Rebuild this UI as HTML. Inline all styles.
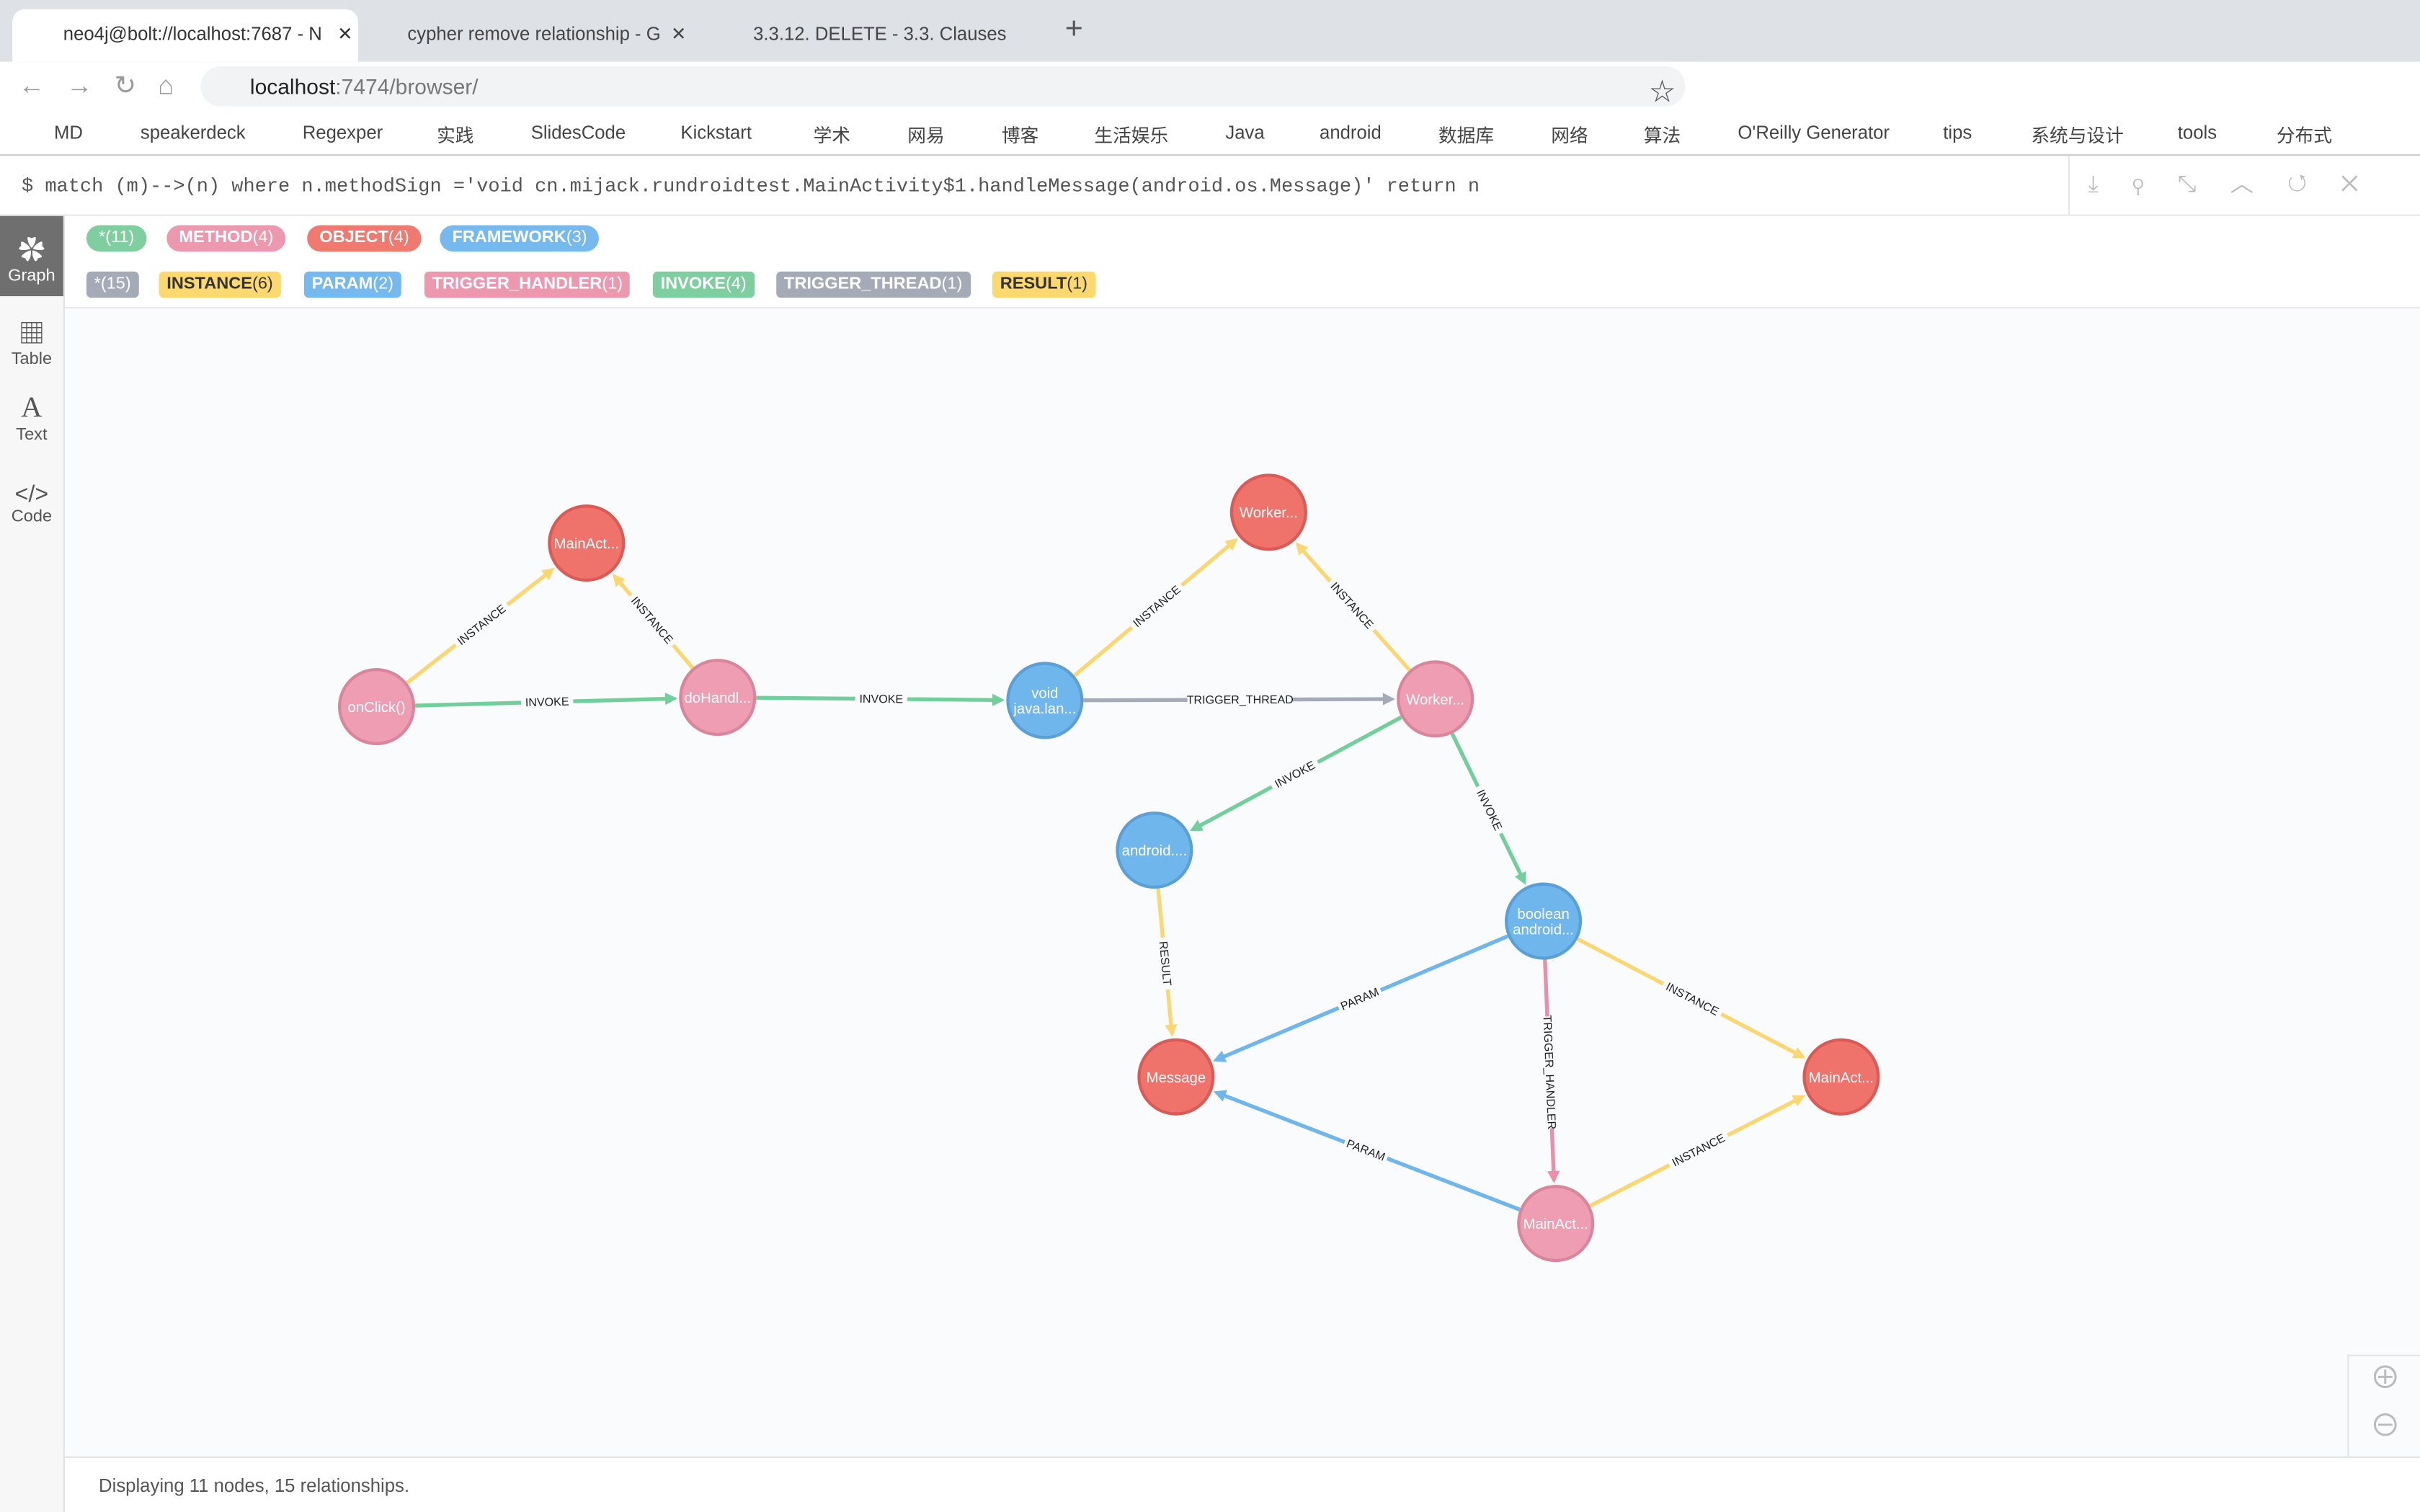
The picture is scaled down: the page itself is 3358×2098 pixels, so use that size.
<!DOCTYPE html>
<html><head><meta charset="utf-8"><style>
html,body{margin:0;padding:0;width:3358px;height:2098px;overflow:hidden;background:#fff}
#w{width:1568px;height:980px;position:relative;transform:scale(2.14158,2.14082);transform-origin:0 0;font-family:"Liberation Sans","Noto Sans CJK SC",sans-serif;font-size:12px;color:#333}
.abs{position:absolute}
.tab{position:absolute;top:6px;height:34px;font-size:12px;color:#333;line-height:32px;padding-left:40px;box-sizing:border-box}
.bm{position:absolute;top:79px;font-size:12px;color:#444}
.pill{position:absolute;height:17px;line-height:17px;font-size:11px;color:#fff;font-weight:bold;padding:0 8px;border-radius:9px}
.pill span{font-weight:normal}
.rel{border-radius:3px;padding:0 5px}
.side{position:absolute;left:0;width:41px;height:52px;text-align:center;font-size:11px;color:#555}
</style></head><body>
<div id="w">
<div class="abs" style="left:0;top:0;width:1568px;height:40px;background:#dee1e6"></div>
<div class="tab" style="left:8px;width:224px;background:#fff;border-radius:8px 8px 0 0;padding-left:33px">neo4j@bolt://localhost:7687 - N &nbsp; ✕</div>
<div class="tab" style="left:232px;width:222px;padding-left:32px;color:#444">cypher remove relationship - G &nbsp;✕</div>
<div class="tab" style="left:456px;width:222px;padding-left:32px;color:#444">3.3.12. DELETE - 3.3. Clauses &nbsp; &nbsp; &nbsp;✕</div>
<div class="abs" style="left:690px;top:8px;font-size:20px;color:#555">+</div>
<div class="abs" style="left:130px;top:43px;width:962px;height:26px;background:#f1f3f4;border-radius:13px"></div>
<div class="abs" style="left:12px;top:46px;font-size:17px;color:#999;letter-spacing:14px">←→↻⌂</div>
<div class="abs" style="left:162px;top:48px;font-size:14px;color:#222">localhost<span style="color:#777">:7474/browser/</span></div>
<div class="abs" style="left:1069px;top:46px;font-size:16px;color:#555">☆</div>
<div class="bm" style="left:35px">MD</div><div class="bm" style="left:91px">speakerdeck</div><div class="bm" style="left:196px">Regexper</div><div class="bm" style="left:283px">实践</div><div class="bm" style="left:344px">SlidesCode</div><div class="bm" style="left:441px">Kickstart</div><div class="bm" style="left:527px">学术</div><div class="bm" style="left:588px">网易</div><div class="bm" style="left:649px">博客</div><div class="bm" style="left:709px">生活娱乐</div><div class="bm" style="left:794px">Java</div><div class="bm" style="left:855px">android</div><div class="bm" style="left:932px">数据库</div><div class="bm" style="left:1005px">网络</div><div class="bm" style="left:1065px">算法</div><div class="bm" style="left:1126px">O'Reilly Generator</div><div class="bm" style="left:1259px">tips</div><div class="bm" style="left:1316px">系统与设计</div><div class="bm" style="left:1411px">tools</div><div class="bm" style="left:1475px">分布式</div>
<div class="abs" style="left:0;top:100px;width:1568px;height:1px;background:#ccc"></div>
<div class="abs" style="left:14px;top:114px;font-family:'Liberation Mono',monospace;font-size:12.6px;color:#555">$ match (m)--&gt;(n) where n.methodSign ='void cn.mijack.rundroidtest.MainActivity$1.handleMessage(android.os.Message)' return n</div>
<div class="abs" style="left:1340px;top:101px;width:228px;height:38px;border-left:1px solid #e5e5e5;color:#bbb;font-size:15px;line-height:38px;letter-spacing:22px;padding-left:12px;box-sizing:border-box">⤓⚲⤡︿↺✕</div>
<div class="abs" style="left:0;top:139px;width:1568px;height:1px;background:#e5e7ea"></div>
<div class="abs" style="left:0;top:140px;width:41px;height:840px;background:#f7f7f7;border-right:1px solid #e2e2e2"></div>
<div class="side" style="top:140px;background:#6f6f6f;color:#fff"><div style="font-size:17px;margin-top:8px">✿</div>Graph</div>
<div class="side" style="top:194px"><div style="font-size:17px;margin-top:8px">▦</div>Table</div>
<div class="side" style="top:248px"><div style="font-size:19px;margin-top:6px;font-family:'Liberation Serif'">A</div>Text</div>
<div class="side" style="top:302px"><div style="font-size:15px;margin-top:10px">&lt;/&gt;</div>Code</div>
<div class="abs" style="left:42px;top:140px;width:1526px;height:59px;background:#fff;border-bottom:1px solid #e9e9e9"></div>
<div class="pill" style="left:56px;top:146px;background:#7fcea0"><span>*(11)</span></div>
<div class="pill" style="left:108px;top:146px;background:#ec99af">METHOD<span>(4)</span></div>
<div class="pill" style="left:199px;top:146px;background:#f07a70">OBJECT<span>(4)</span></div>
<div class="pill" style="left:285px;top:146px;background:#76b9ef">FRAMEWORK<span>(3)</span></div>
<div class="pill rel" style="left:56px;top:176px;background:#a5abb6"><span>*(15)</span></div>
<div class="pill rel" style="left:103px;top:176px;background:#fcd96e;color:#333">INSTANCE<span>(6)</span></div>
<div class="pill rel" style="left:197px;top:176px;background:#76b9ef">PARAM<span>(2)</span></div>
<div class="pill rel" style="left:275px;top:176px;background:#ec99af">TRIGGER_HANDLER<span>(1)</span></div>
<div class="pill rel" style="left:423px;top:176px;background:#7fcea0">INVOKE<span>(4)</span></div>
<div class="pill rel" style="left:503px;top:176px;background:#a5abb6">TRIGGER_THREAD<span>(1)</span></div>
<div class="pill rel" style="left:643px;top:176px;background:#fcd96e;color:#333">RESULT<span>(1)</span></div>
<div class="abs" style="left:42px;top:200px;width:1526px;height:744px;background:#f9fbfd"></div>
<svg id="g" class="abs" style="left:0;top:0" width="1568" height="980"></svg>
<div class="abs" style="left:1521px;top:878px;width:47px;height:66px;border-left:1px solid #e5e5e5;border-top:1px solid #e5e5e5;color:#bbb;font-size:20px;text-align:center;line-height:31px;background:#f9fbfd">⊕<br>⊖</div>
<div class="abs" style="left:42px;top:944px;width:1526px;height:36px;background:#fff;border-top:1px solid #e5e5e5"></div>
<div class="abs" style="left:64px;top:956px;font-size:12px;color:#555">Displaying 11 nodes, 15 relationships.</div>
</div>
<script>
const nodeLabels=["onClick()","MainAct...","doHandl...","void\njava.lan...","Worker...","Worker...","android....","boolean\nandroid...","Message","MainAct...","MainAct..."];
const nodeTypes=["m","o","m","f","o","m","f","f","o","o","m"];
const nodeX=[244,380,465,677,822,930,748,1000,762,1193,1008];
const nodeY=[458,352,452,454,332,453,551,597,698,698,793];
const edgeFrom=[0,2,0,2,3,5,3,5,5,6,7,7,7,10,10];
const edgeTo=[1,1,2,3,4,4,5,6,7,8,8,9,10,8,9];
const edgeTypes=["INSTANCE","INSTANCE","INVOKE","INVOKE","INSTANCE","INSTANCE","TRIGGER_THREAD","INVOKE","INVOKE","RESULT","PARAM","INSTANCE","TRIGGER_HANDLER","PARAM","INSTANCE"];
const fill={m:"#ef9db3",o:"#f0736b",f:"#6fb6ec"},stroke={m:"#d9859c",o:"#da5b55",f:"#5a9fd6"};
const ecol={INSTANCE:"#fcd670",INVOKE:"#72cf9c",TRIGGER_THREAD:"#a5abb6",RESULT:"#fcd670",PARAM:"#6fb6ec",TRIGGER_HANDLER:"#ec8ea8"};
const svg=document.getElementById('g'),NS="http://www.w3.org/2000/svg",R=24;
function mk(t,a){const e=document.createElementNS(NS,t);for(const k in a)e.setAttribute(k,a[k]);svg.appendChild(e);return e;}
edgeFrom.forEach((f,i)=>{
 const t=edgeTo[i],x1=nodeX[f],y1=nodeY[f],x2=nodeX[t],y2=nodeY[t];
 const dx=x2-x1,dy=y2-y1,L=Math.hypot(dx,dy),ux=dx/L,uy=dy/L,c=ecol[edgeTypes[i]];
 const sx=x1+ux*(R+1),sy=y1+uy*(R+1),ex=x2-ux*(R+2),ey=y2-uy*(R+2);
 const mx=(x1+x2)/2,my=(y1+y2)/2,tw=edgeTypes[i].length*4.3+8;
 const l1=mk('line',{x1:sx,y1:sy,x2:mx-ux*tw/2,y2:my-uy*tw/2,stroke:c,'stroke-width':2.5});
 
 
 const l2=mk('line',{x1:mx+ux*tw/2,y1:my+uy*tw/2,x2:ex-ux*6,y2:ey-uy*6,stroke:c,'stroke-width':2.5});
 
 
 const px=-uy,py=ux;
 const ar=mk('polygon',{points:`${ex},${ey} ${ex-ux*8+px*4},${ey-uy*8+py*4} ${ex-ux*8-px*4},${ey-uy*8-py*4}`,fill:c});
 
 
 let a=Math.atan2(dy,dx)*180/Math.PI;if(a>90)a-=180;if(a<-90)a+=180;
 const tx=mk('text',{x:mx,y:my+2.5,'text-anchor':'middle','font-size':7.5,fill:'#222',transform:`rotate(${a} ${mx} ${my})`,'font-family':'Liberation Sans, sans-serif'});
 tx.textContent=edgeTypes[i];
 
 
});
nodeLabels.forEach((lb,i)=>{
 const c=mk('circle',{cx:nodeX[i],cy:nodeY[i],r:R,fill:fill[nodeTypes[i]],stroke:stroke[nodeTypes[i]],'stroke-width':2});
 
 
 const lines=lb.split('\n');
 lines.forEach((s,j)=>{
  const t=mk('text',{x:nodeX[i],y:nodeY[i]+3.5+(j-(lines.length-1)/2)*10,'text-anchor':'middle','font-size':9.5,fill:'#fff','font-family':'Liberation Sans, sans-serif'});
  t.textContent=s;
  
  
 });
});
</script>
</body></html>
